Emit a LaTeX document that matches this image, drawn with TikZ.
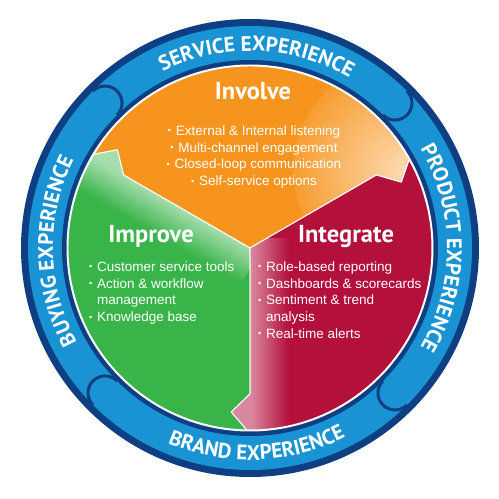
\documentclass[tikz,border=0pt]{standalone}
\usepackage{fontspec}
\setmainfont{Liberation Sans}
\newfontfamily\ptsans{PT Sans}
\usetikzlibrary{decorations.text}

\definecolor{ringnavy}{HTML}{0D3F82}
\definecolor{ringblue}{HTML}{1A93D5}
\definecolor{involveorange}{HTML}{F7941E}
\definecolor{improvegreen}{HTML}{38B449}
\definecolor{integratered}{HTML}{B3103C}

% one third of the disc, drawn from angle 0 to 120, with the arrow notch
\newcommand{\petalpath}{(0,0) -- (0:146) -- (-6.5:165) -- (-1:182)
  arc[start angle=-1, end angle=119, radius=182] -- (113.5:165) -- (120:146) -- cycle}
\newcommand{\bul}{\makebox[8pt][l]{\raisebox{1.5pt}{\fontsize{9}{9}\selectfont\textbullet}}}

\tikzset{
  title/.style={text=white, font=\ptsans\bfseries\fontsize{24.5}{28}\selectfont, anchor=base},
  points/.style={text=white, font=\fontsize{13.5}{16.7}\selectfont, inner sep=0pt},
  ringtext/.style={decorate, decoration={text along path, text align=center,
      text color=white, text={|\ptsans\bfseries\fontsize{21}{21}\selectfont|#1}}},
  capline/.style={draw=ringnavy, line width=3pt},
  petaledge/.style={draw=white, line width=1pt, line join=round},
}

\begin{document}
\begin{tikzpicture}[x=1pt, y=1pt]
  \useasboundingbox (0,0) rectangle (499,499);
  \fill[white] (0,0) rectangle (499,499);
  \coordinate (C) at (250,251);

  % outer ring
  \fill[ringnavy] (C) circle (229);
  \fill[ringblue] (C) circle (222);
  \fill[ringnavy] (C) circle (188);
  \fill[white] (C) circle (183.5);
  \foreach \a in {135,45,-45,-135}
    \draw[capline, shift={(C)}, rotate=\a] (222,0) arc[start angle=0, end angle=-180, radius=17];

  \path[ringtext={SERVICE EXPERIENCE}] ([shift={(148:197)}]C) arc[start angle=148, end angle=28, radius=197];
  \path[ringtext={PRODUCT EXPERIENCE}] ([shift={(60:197)}]C) arc[start angle=60, end angle=-60, radius=197];
  \path[ringtext={BUYING EXPERIENCE}] ([shift={(241:197)}]C) arc[start angle=241, end angle=121, radius=197];
  \path[ringtext={BRAND EXPERIENCE}] ([shift={(-148:212)}]C) arc[start angle=-148, end angle=-28, radius=212];

  % Involve
  \begin{scope}[shift={(C)}, rotate=30]
    \fill[involveorange] \petalpath;
    \begin{scope}
      \clip \petalpath;
      \shade[inner color=involveorange!35!white, outer color=involveorange] (-3:172) circle (110);
    \end{scope}
    \path[petaledge] \petalpath;
  \end{scope}

  % Improve
  \begin{scope}[shift={(C)}, rotate=150]
    \fill[improvegreen] \petalpath;
    \begin{scope}
      \clip \petalpath;
      \fill[improvegreen!45!white] (-10,-30) rectangle (200,0.1);
      \foreach \k [evaluate=\k as \mix using int(45+4*\k)] in {0,...,13}
        \fill[improvegreen!\mix!white] (-10,2.5*\k) rectangle (200,2.5*\k+2.6);
    \end{scope}
    \path[petaledge] \petalpath;
  \end{scope}

  % Integrate
  \begin{scope}[shift={(C)}, rotate=270]
    \fill[integratered] \petalpath;
    \begin{scope}
      \clip \petalpath;
      \fill[integratered!50!white] (-10,-30) rectangle (200,0.1);
      \foreach \k [evaluate=\k as \mix using int(50+4*\k)] in {0,...,12}
        \fill[integratered!\mix!white] (-10,3*\k) rectangle (200,3*\k+3.1);
    \end{scope}
    \path[petaledge] \petalpath;
  \end{scope}

  \node[title] (involve) at (253,399) {Involve};
  \node[title] (improve) at (151,256) {Improve};
  \node[title] (integrate) at (346,256) {Integrate};

  \node[points, align=center, anchor=north] (involvelist) at (254,373.5)
    {\bul External \& Internal listening\\ \bul Multi-channel engagement\\
     \bul Closed-loop communication\\ \bul Self-service options};
  \node[points, align=left, anchor=north west] (improvelist) at (89,237.5)
    {\bul Customer service tools\\ \bul Action \& workflow\\
     \hspace*{8pt}management\\ \bul Knowledge base};
  \node[points, align=left, anchor=north west] (integratelist) at (258,237.5)
    {\bul Role-based reporting\\ \bul Dashboards \& scorecards\\
     \bul Sentiment \& trend\\ \hspace*{8pt}analysis\\ \bul Real-time alerts};
\end{tikzpicture}
\end{document}
